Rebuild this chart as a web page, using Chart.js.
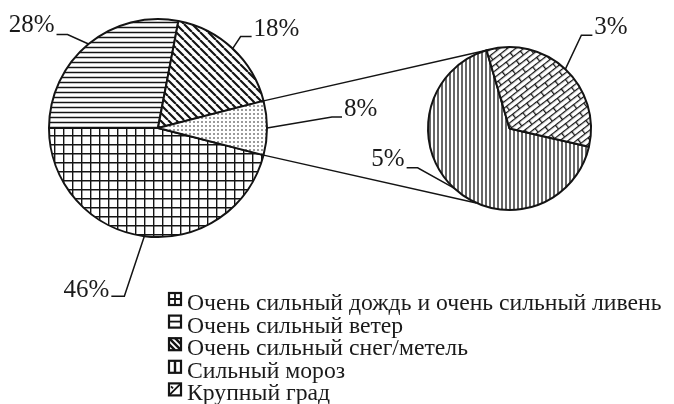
<!DOCTYPE html>
<html><head><meta charset="utf-8">
<script src="https://cdn.jsdelivr.net/npm/chart.js@4.4.0/dist/chart.umd.min.js"></script>
<style>
html,body{margin:0;padding:0;background:#fff;}
#wrap{position:relative;width:674px;height:404px;overflow:hidden;}
#wrap canvas{position:absolute;left:0;top:0;}
</style></head><body>
<div id="wrap"><canvas id="main" width="674" height="404"></canvas><canvas id="sub" width="674" height="404"></canvas></div>
<script>
// ---- data ----
const categories = ['Очень сильный дождь и очень сильный ливень','Очень сильный ветер','Очень сильный снег/метель','Сильный мороз','Крупный град'];
const mainLabels = ['Очень сильный дождь и очень сильный ливень','Очень сильный ветер','Очень сильный снег/метель','Сильный мороз и крупный град'];
const mainValues = [46, 28, 18, 8];
const subLabels = ['Сильный мороз','Крупный град'];
const subValues = [5.35, 2.65];

// ---- style ----
const INK = '#141414';
const FONT = '"Liberation Serif","Times New Roman",serif';

function tile(w,h,draw,rot){
  const c=document.createElement('canvas');c.width=w;c.height=h;
  const g=c.getContext('2d');g.fillStyle='#fff';g.fillRect(0,0,w,h);
  g.strokeStyle=INK;g.fillStyle=INK;draw(g,w,h);
  const p=document.createElement('canvas').getContext('2d').createPattern(c,'repeat');
  if(rot && p.setTransform){p.setTransform(new DOMMatrix().rotate(rot));}
  return p;
}
const P = {
  grid: tile(9,9,(g)=>{g.lineWidth=1.4;g.beginPath();g.moveTo(0.7,0);g.lineTo(0.7,9);g.moveTo(0,0.7);g.lineTo(9,0.7);g.stroke();}),
  horiz: tile(5,5,(g)=>{g.lineWidth=1.5;g.beginPath();g.moveTo(0,2.5);g.lineTo(5,2.5);g.stroke();}),
  diag: tile(8,8,(g)=>{g.lineWidth=2.1;g.beginPath();for(const k of [-8,0,8]){g.moveTo(k,0);g.lineTo(k+8,8);}g.stroke();}),
  dots: tile(4,4,(g)=>{g.fillStyle='#333';g.fillRect(1.3,1.3,1.4,1.4);}),
  vert: tile(4,4,(g)=>{g.lineWidth=1.3;g.beginPath();g.moveTo(2,0);g.lineTo(2,4);g.stroke();}),
  brick: tile(18,10,(g)=>{g.lineWidth=1.3;g.beginPath();
    g.moveTo(0,0.6);g.lineTo(18,0.6);g.moveTo(0,5.6);g.lineTo(18,5.6);
    g.moveTo(0.6,0.6);g.lineTo(0.6,5.6);g.moveTo(9.6,5.6);g.lineTo(9.6,10);
    g.stroke();},-38)
};
const mainFills = [P.grid, P.horiz, P.diag, P.dots];
const subFills = [P.vert, P.brick];
const legendKinds = ['grid','horiz','diag','vert','brick'];

function pct(v){return Math.round(v)+'%';}

// leader label layout: elbow offset from anchor, horizontal run, text nudge
const mainLeaders = [
  {dx:-20,dy:60,run:-13,ty:1},
  {dx:-21,dy:-9.5,run:-11,ty:-3},
  {dx:8,dy:-12,run:11,ty:-1},
  {dx:65,dy:-11,run:10,ty:-1}
];
const subLeaders = [
  {dx:-36,dy:-20,run:-11,ty:-2},
  {dx:16,dy:-34,run:11,ty:-1}
];
const SUB_BOTTOM_ANGLE = 114*Math.PI/180;

function drawLeaders(chart, values, leaders){
  const ctx=chart.ctx; const arcs=chart.getDatasetMeta(0).data;
  ctx.save();ctx.strokeStyle=INK;ctx.lineWidth=1.5;ctx.fillStyle='#1a1a1a';
  ctx.font='25px '+FONT;ctx.textBaseline='alphabetic';
  arcs.forEach((a,i)=>{
    const L=leaders[i]; const m=(a.startAngle+a.endAngle)/2;
    const ax=a.x+a.outerRadius*Math.cos(m), ay=a.y+a.outerRadius*Math.sin(m);
    const ex=ax+L.dx, ey=ay+L.dy, hx=ex+L.run;
    ctx.beginPath();ctx.moveTo(ax,ay);ctx.lineTo(ex,ey);ctx.lineTo(hx,ey);ctx.stroke();
    ctx.textAlign=L.run<0?'right':'left';
    ctx.fillText(pct(values[i]), hx+(L.run<0?-2:2), ey+L.ty);
  });
  ctx.restore();
}

function drawSwatch(ctx,kind,x,y,s){
  ctx.save();ctx.strokeStyle=INK;ctx.fillStyle='#fff';ctx.lineWidth=2.2;
  ctx.fillRect(x,y,s,s);ctx.strokeRect(x,y,s,s);
  ctx.beginPath();ctx.lineWidth=1.8;
  const cx=x+s/2, cy=y+s/2;
  if(kind==='grid'){ctx.moveTo(cx,y);ctx.lineTo(cx,y+s);ctx.moveTo(x,cy);ctx.lineTo(x+s,cy);}
  else if(kind==='horiz'){ctx.moveTo(x,cy);ctx.lineTo(x+s,cy);}
  else if(kind==='diag'){ctx.lineWidth=2.4;ctx.moveTo(x,y);ctx.lineTo(x+s,y+s);ctx.moveTo(x+s/2,y);ctx.lineTo(x+s,y+s/2);ctx.moveTo(x,y+s/2);ctx.lineTo(x+s/2,y+s);}
  else if(kind==='vert'){ctx.lineWidth=2.4;ctx.moveTo(cx,y);ctx.lineTo(cx,y+s);}
  else if(kind==='brick'){ctx.moveTo(x,y+s);ctx.lineTo(x+s,y);ctx.moveTo(x+2,y+3);ctx.lineTo(x+4,y+5);}
  ctx.stroke();ctx.restore();
}

const subChart = new Chart(document.getElementById('sub'),{
  type:'pie',
  data:{labels:subLabels,datasets:[{data:subValues,backgroundColor:subFills,borderColor:INK,borderWidth:2}]},
  options:{responsive:false,devicePixelRatio:1,animation:false,events:[],rotation:102.9,
    layout:{padding:{left:427,right:82,top:46,bottom:193}},
    plugins:{legend:{display:false},tooltip:{enabled:false}}},
  plugins:[{id:'subLabels',afterDatasetsDraw(chart){drawLeaders(chart,subValues,subLeaders);}}]
});

const mainChart = new Chart(document.getElementById('main'),{
  type:'pie',
  data:{labels:mainLabels,datasets:[{data:mainValues,backgroundColor:mainFills,borderColor:INK,borderWidth:2}]},
  options:{responsive:false,devicePixelRatio:1,animation:false,events:[],rotation:104.4,
    layout:{padding:{left:48,right:406,top:18,bottom:166}},
    plugins:{legend:{display:false},tooltip:{enabled:false}}},
  plugins:[{id:'extras',
    beforeDatasetsDraw(chart){
      const ctx=chart.ctx; const a=chart.getDatasetMeta(0).data[mainValues.length-1];
      const sm=subChart.getDatasetMeta(0).data; const s=sm[sm.length-1];
      const p1=[a.x+a.outerRadius*Math.cos(a.startAngle),a.y+a.outerRadius*Math.sin(a.startAngle)];
      const p2=[a.x+a.outerRadius*Math.cos(a.endAngle),a.y+a.outerRadius*Math.sin(a.endAngle)];
      const q1=[s.x+s.outerRadius*Math.cos(s.startAngle),s.y+s.outerRadius*Math.sin(s.startAngle)];
      const q2=[s.x+s.outerRadius*Math.cos(SUB_BOTTOM_ANGLE),s.y+s.outerRadius*Math.sin(SUB_BOTTOM_ANGLE)];
      ctx.save();ctx.strokeStyle=INK;ctx.lineWidth=1.5;ctx.beginPath();
      ctx.moveTo(p1[0],p1[1]);ctx.lineTo(q1[0],q1[1]);ctx.moveTo(p2[0],p2[1]);ctx.lineTo(q2[0],q2[1]);ctx.stroke();ctx.restore();
    },
    afterDatasetsDraw(chart){
      drawLeaders(chart,mainValues,mainLeaders);
      const ctx=chart.ctx;
      ctx.save();ctx.font='23.7px '+FONT;ctx.fillStyle='#1a1a1a';ctx.textAlign='left';ctx.textBaseline='alphabetic';
      categories.forEach((c,i)=>{
        const by=310+i*22.6;
        drawSwatch(ctx,legendKinds[i],169,by-17,12);
        ctx.fillText(c,187,by);
      });
      ctx.restore();
    }}]
});
</script>
</body></html>
